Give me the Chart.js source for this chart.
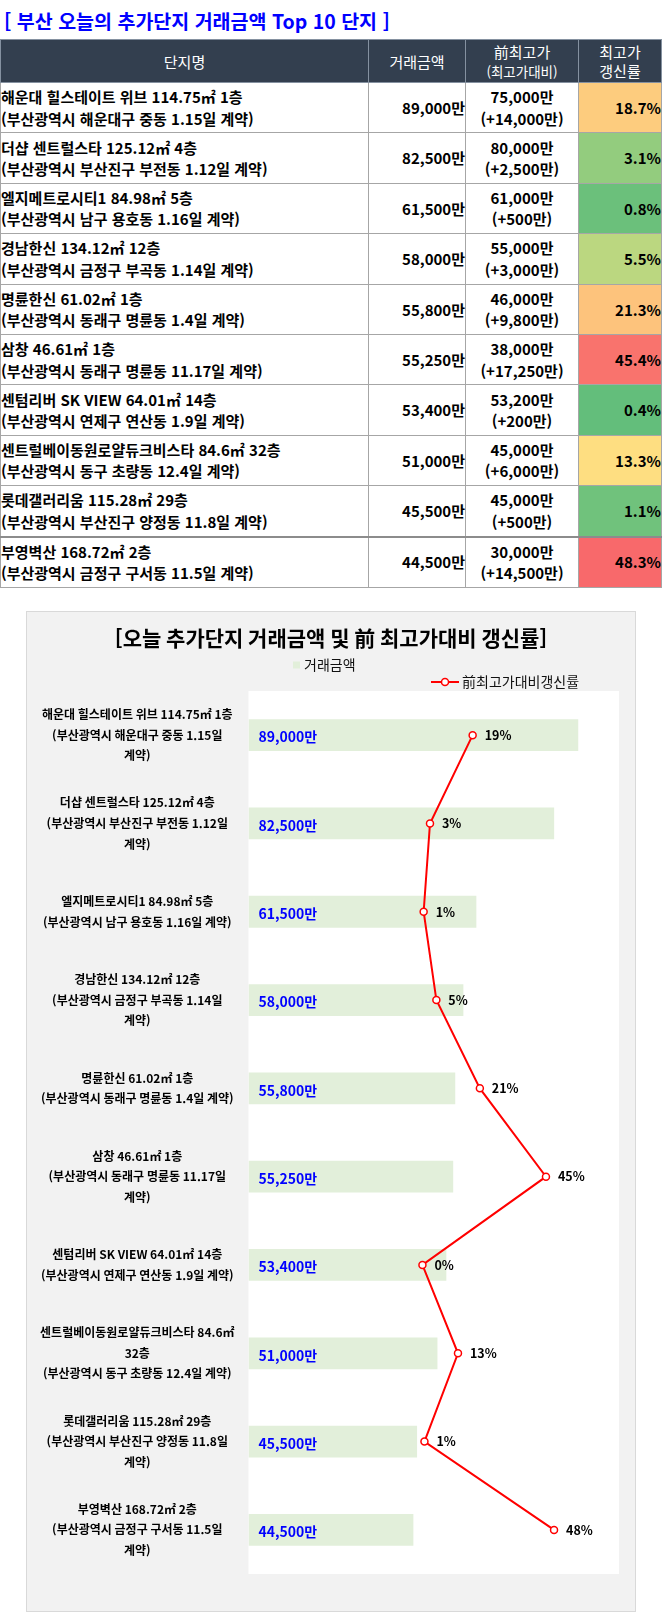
<!DOCTYPE html>
<html lang="ko">
<head>
<meta charset="UTF-8">
<title>부산 오늘의 추가단지 거래금액 Top 10 단지</title>
<style>
  body {
    margin: 0;
    background: #ffffff;
    font-family: 'Noto Sans CJK KR', 'Noto Sans', sans-serif;
  }
  .page_title {
    position: absolute;
    left: 4px;
    top: 6px;
    font-size: 19.5px;
    font-weight: bold;
    color: #0000ff;
    line-height: 29px;
    white-space: nowrap;
  }
  table.deal {
    position: absolute;
    left: 0;
    top: 39px;
    width: 661px;
    border-collapse: collapse;
    table-layout: fixed;
  }
  table.deal th, table.deal td {
    border: 1px solid #a6a6a6;
    padding: 0;
  }
  table.deal th {
    background: #333f4f;
    color: #ffffff;
    font-weight: normal;
    font-size: 15px;
    line-height: 19px;
    height: 42px;
    border-color: #8591a0;
  }
  table.deal th small { font-size: 13.5px; }
  table.deal td {
    height: 49.4px;
    font-size: 15px;
    font-weight: bold;
    line-height: 21.5px;
    color: #000;
    white-space: nowrap;
  }
  td.name { padding-left: 5px; text-align: left; }
  td.price { text-align: right; padding-right: 6px; }
  td.prev { text-align: center; }
  td.rate { text-align: right; padding-right: 3px; }
  tr.last td { border-top: 2px solid #8c8c8c; }
  .chart_box {
    position: absolute;
    left: 26px;
    top: 611px;
    width: 608px;
    height: 999px;
    background: #f2f2f2;
    border: 1px solid #d9d9d9;
  }
</style>
<script src="https://cdn.jsdelivr.net/npm/chart.js@4.4.6/dist/chart.umd.min.js"></script>
</head>
<body>
<div class="page_title">[ 부산 오늘의 추가단지 거래금액 Top 10 단지 ]</div>
<table class="deal" id="dealTable">
  <colgroup>
    <col style="width:368px"><col style="width:97px"><col style="width:113px"><col style="width:83px">
  </colgroup>
  <thead>
    <tr>
      <th>단지명</th>
      <th>거래금액</th>
      <th>前최고가<br><small>(최고가대비)</small></th>
      <th>최고가<br>갱신률</th>
    </tr>
  </thead>
  <tbody></tbody>
</table>
<div class="chart_box">
  <canvas id="myChart" width="608" height="999"></canvas>
</div>
<script>
// 단지별 거래 데이터 (단위: 만원)
var complexNames = ['해운대 힐스테이트 위브', '더샵 센트럴스타', '엘지메트로시티1', '경남한신', '명륜한신',
                    '삼창', '센텀리버 SK VIEW', '센트럴베이동원로얄듀크비스타', '롯데갤러리움', '부영벽산'];
var areas = ['114.75', '125.12', '84.98', '134.12', '61.02', '46.61', '64.01', '84.6', '115.28', '168.72'];
var floors = [1, 4, 5, 12, 1, 1, 14, 32, 29, 2];
var districts = ['해운대구 중동', '부산진구 부전동', '남구 용호동', '금정구 부곡동', '동래구 명륜동',
                 '동래구 명륜동', '연제구 연산동', '동구 초량동', '부산진구 양정동', '금정구 구서동'];
var contractDates = ['1.15', '1.12', '1.16', '1.14', '1.4', '11.17', '1.9', '12.4', '11.8', '11.5'];
var dealPrices = [89000, 82500, 61500, 58000, 55800, 55250, 53400, 51000, 45500, 44500];
var prevHighPrices = [75000, 80000, 61000, 55000, 46000, 38000, 53200, 45000, 45000, 30000];
var renewRates = [18.67, 3.13, 0.82, 5.454, 21.30, 45.39, 0.38, 13.33, 1.11, 48.33];

// 차트 y축 라벨 (엑셀 차트의 줄바꿈 그대로)
var chartTickLabels = [
  ['해운대 힐스테이트 위브 114.75㎡ 1층', '(부산광역시 해운대구 중동 1.15일', '계약)'],
  ['더샵 센트럴스타 125.12㎡ 4층', '(부산광역시 부산진구 부전동 1.12일', '계약)'],
  ['엘지메트로시티1 84.98㎡ 5층', '(부산광역시 남구 용호동 1.16일 계약)'],
  ['경남한신 134.12㎡ 12층', '(부산광역시 금정구 부곡동 1.14일', '계약)'],
  ['명륜한신 61.02㎡ 1층', '(부산광역시 동래구 명륜동 1.4일 계약)'],
  ['삼창 46.61㎡ 1층', '(부산광역시 동래구 명륜동 11.17일', '계약)'],
  ['센텀리버 SK VIEW 64.01㎡ 14층', '(부산광역시 연제구 연산동 1.9일 계약)'],
  ['센트럴베이동원로얄듀크비스타 84.6㎡', '32층', '(부산광역시 동구 초량동 12.4일 계약)'],
  ['롯데갤러리움 115.28㎡ 29층', '(부산광역시 부산진구 양정동 11.8일', '계약)'],
  ['부영벽산 168.72㎡ 2층', '(부산광역시 금정구 구서동 11.5일', '계약)']
];

var FONT = "'Noto Sans CJK KR', 'Noto Sans', sans-serif";

function fmt(v) {
  return v.toLocaleString('en-US') + '만';
}

// 엑셀 3색 스케일 (녹색 - 노랑 - 빨강, 중간값 = 50 백분위수)
function scaleColor(v, values) {
  var s = values.slice().sort(function(a, b) { return a - b; });
  var min = s[0], max = s[s.length - 1];
  var mid = (s[4] + s[5]) / 2;
  var lo = [99, 190, 123], md = [255, 235, 132], hi = [248, 105, 107];
  var a, b, t;
  if (v <= mid) { a = lo; b = md; t = (v - min) / (mid - min); }
  else { a = md; b = hi; t = (v - mid) / (max - mid); }
  var c = a.map(function(x, i) { return Math.round(x + (b[i] - x) * t); });
  return 'rgb(' + c.join(',') + ')';
}

// 표 만들기
var tbody = document.querySelector('#dealTable tbody');
complexNames.forEach(function(name, i) {
  var tr = document.createElement('tr');
  if (i === complexNames.length - 1) tr.className = 'last';
  tr.innerHTML =
    '<td class="name">' + name + ' ' + areas[i] + '㎡ ' + floors[i] + '층<br>' +
    '(부산광역시 ' + districts[i] + ' ' + contractDates[i] + '일 계약)</td>' +
    '<td class="price">' + fmt(dealPrices[i]) + '</td>' +
    '<td class="prev">' + fmt(prevHighPrices[i]) + '<br>(+' + fmt(dealPrices[i] - prevHighPrices[i]) + ')</td>' +
    '<td class="rate" style="background:' + scaleColor(renewRates[i], renewRates) + '">' +
    renewRates[i].toFixed(1) + '%</td>';
  tbody.appendChild(tr);
});

// 플롯 영역 흰 배경
var plotBg = {
  id: 'plotBg',
  beforeDraw: function(chart) {
    var a = chart.chartArea, c = chart.ctx;
    c.save();
    c.fillStyle = '#ffffff';
    c.fillRect(a.left, a.top, a.right - a.left, a.bottom - a.top);
    c.restore();
  }
};

// 막대/꺾은선 값 라벨
var valueLabels = {
  id: 'valueLabels',
  afterDatasetsDraw: function(chart) {
    var c = chart.ctx;
    var x0 = chart.scales.x.getPixelForValue(0);
    c.save();
    c.textBaseline = 'middle';
    chart.getDatasetMeta(1).data.forEach(function(bar, i) {
      c.font = 'bold 14px ' + FONT;
      c.fillStyle = '#0000ff';
      c.textAlign = 'left';
      c.fillText(fmt(dealPrices[i]), x0 + 10, bar.y + 2);
    });
    chart.getDatasetMeta(0).data.forEach(function(pt, i) {
      c.font = 'bold 12.5px ' + FONT;
      c.fillStyle = '#000000';
      c.fillText(Math.round(renewRates[i]) + '%', pt.x + 12, pt.y);
    });
    c.restore();
  }
};

// 제목 + 범례 (범례는 두 줄로 따로 배치)
var titleLegend = {
  id: 'titleLegend',
  afterDraw: function(chart) {
    var c = chart.ctx;
    c.save();
    c.textBaseline = 'middle';
    c.textAlign = 'center';
    c.fillStyle = '#000';
    c.font = 'bold 21px ' + FONT;
    c.fillText('[오늘 추가단지 거래금액 및 前 최고가대비 갱신률]', chart.width / 2, 26);

    c.textAlign = 'left';
    c.font = '14px ' + FONT;
    c.fillStyle = '#e2efda';
    c.fillRect(266, 49.5, 7, 7);
    c.fillStyle = '#111';
    c.fillText('거래금액', 277, 53);
    c.strokeStyle = '#ff0000';
    c.lineWidth = 2;
    c.beginPath(); c.moveTo(404, 70); c.lineTo(432, 70); c.stroke();
    c.fillStyle = '#ffffff';
    c.lineWidth = 1.5;
    c.beginPath(); c.arc(418, 70, 3.5, 0, Math.PI * 2); c.fill(); c.stroke();
    c.fillStyle = '#111';
    c.fillText('前최고가대비갱신률', 435, 70);
    c.restore();
  }
};

var ctx = document.getElementById('myChart');
var myChart = new Chart(ctx, {
  type: 'bar',
  data: {
    labels: chartTickLabels,
    datasets: [
      {
        type: 'line',
        label: '前최고가대비갱신률',
        data: renewRates,
        indexAxis: 'y',
        xAxisID: 'x2',
        yAxisID: 'y',
        borderColor: '#ff0000',
        borderWidth: 2,
        pointRadius: 3.5,
        pointBorderWidth: 1.5,
        pointBackgroundColor: '#ffffff',
        pointBorderColor: '#ff0000',
        tension: 0,
        order: 0
      },
      {
        type: 'bar',
        label: '거래금액',
        data: dealPrices,
        indexAxis: 'y',
        xAxisID: 'x',
        yAxisID: 'y',
        backgroundColor: '#e2efda',
        barPercentage: 0.36,
        categoryPercentage: 1,
        order: 1
      }
    ]
  },
  options: {
    responsive: false,
    animation: false,
    indexAxis: 'y',
    layout: {
      padding: { left: 0, right: 16, top: 79, bottom: 22 }
    },
    plugins: {
      legend: { display: false },
      tooltip: { enabled: false },
      title: { display: false }
    },
    scales: {
      x: { display: false, min: 0, max: 100000 },
      x2: { display: false, type: 'linear', min: -63, max: 72 },
      y: {
        grid: { display: false },
        border: { display: false },
        ticks: {
          crossAlign: 'center',
          padding: 6,
          color: '#000',
          font: { family: FONT, size: 12, weight: 'bold', lineHeight: 1.72 }
        },
        afterFit: function(scale) { scale.width = 221.5; }
      }
    }
  },
  plugins: [plotBg, valueLabels, titleLegend]
});
</script>
</body>
</html>
